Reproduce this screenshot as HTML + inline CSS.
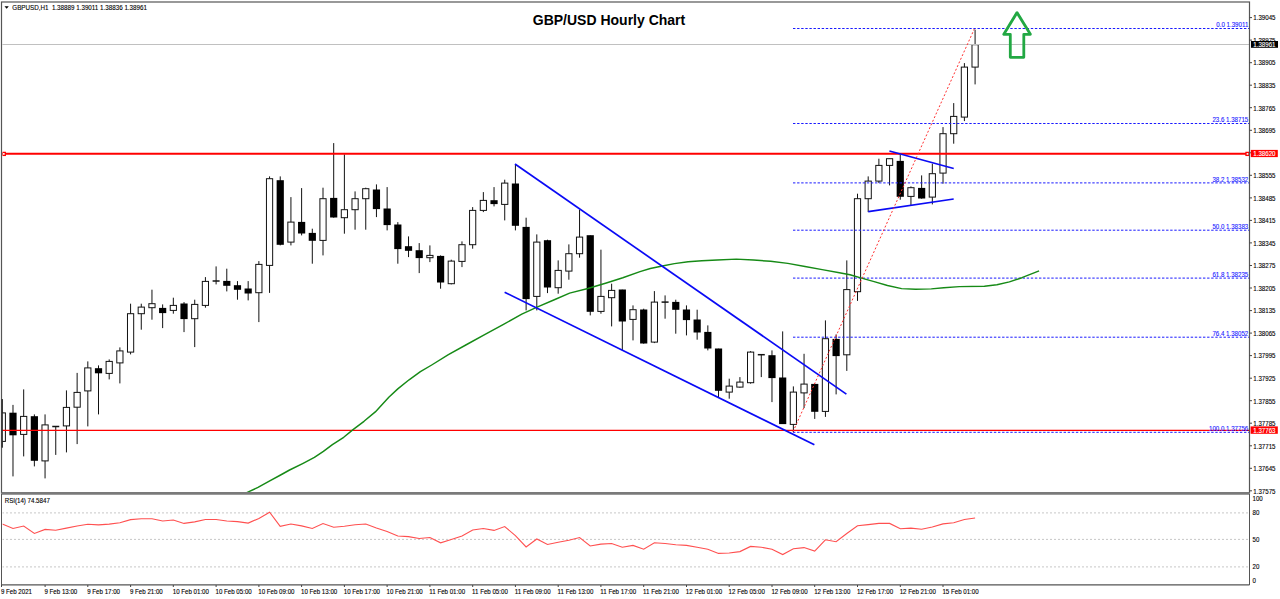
<!DOCTYPE html>
<html><head><meta charset="utf-8"><title>GBP/USD Hourly Chart</title>
<style>html,body{margin:0;padding:0;background:#fff;width:1280px;height:599px;overflow:hidden;font-family:"Liberation Sans",sans-serif}svg{display:block}</style>
</head><body>
<svg width="1280" height="599" viewBox="0 0 1280 599">
<rect x="0" y="0" width="1280" height="599" fill="#fff"/>
<defs><clipPath id="mc"><rect x="2.5" y="2" width="1246.5" height="490"/></clipPath><clipPath id="rc"><rect x="2.5" y="495" width="1246.5" height="89.5"/></clipPath></defs>
<g clip-path="url(#mc)">
<line x1="2.30" y1="399.4" x2="2.30" y2="447.9" stroke="#111" stroke-width="1"/>
<rect x="-0.80" y="412.9" width="6.2" height="28.5" fill="#fff" stroke="#111" stroke-width="1"/>
<line x1="12.99" y1="404.9" x2="12.99" y2="476.4" stroke="#111" stroke-width="1"/>
<rect x="9.39" y="412.7" width="7.2" height="22.6" fill="#000"/>
<line x1="23.68" y1="389.4" x2="23.68" y2="456.4" stroke="#111" stroke-width="1"/>
<rect x="20.58" y="416.4" width="6.2" height="18.0" fill="#fff" stroke="#111" stroke-width="1"/>
<line x1="34.37" y1="414.4" x2="34.37" y2="466.4" stroke="#111" stroke-width="1"/>
<rect x="30.77" y="416.2" width="7.2" height="44.6" fill="#000"/>
<line x1="45.06" y1="414.4" x2="45.06" y2="478.4" stroke="#111" stroke-width="1"/>
<rect x="41.96" y="424.9" width="6.2" height="36.0" fill="#fff" stroke="#111" stroke-width="1"/>
<line x1="55.75" y1="426.4" x2="55.75" y2="454.9" stroke="#111" stroke-width="1"/>
<line x1="52.25" y1="426.4" x2="59.25" y2="426.4" stroke="#111" stroke-width="1.5"/>
<line x1="66.44" y1="390.4" x2="66.44" y2="452.4" stroke="#111" stroke-width="1"/>
<rect x="63.34" y="407.4" width="6.2" height="18.5" fill="#fff" stroke="#111" stroke-width="1"/>
<line x1="77.13" y1="372.9" x2="77.13" y2="444.1" stroke="#111" stroke-width="1"/>
<rect x="74.03" y="392.4" width="6.2" height="14.8" fill="#fff" stroke="#111" stroke-width="1"/>
<line x1="87.82" y1="361.4" x2="87.82" y2="426.4" stroke="#111" stroke-width="1"/>
<rect x="84.72" y="367.9" width="6.2" height="23.0" fill="#fff" stroke="#111" stroke-width="1"/>
<line x1="98.51" y1="365.4" x2="98.51" y2="414.4" stroke="#111" stroke-width="1"/>
<rect x="94.91" y="368.2" width="7.2" height="5.1" fill="#000"/>
<line x1="109.20" y1="359.4" x2="109.20" y2="379.4" stroke="#111" stroke-width="1"/>
<rect x="106.10" y="361.4" width="6.2" height="12.0" fill="#fff" stroke="#111" stroke-width="1"/>
<line x1="119.89" y1="347.4" x2="119.89" y2="383.4" stroke="#111" stroke-width="1"/>
<rect x="116.79" y="350.9" width="6.2" height="12.0" fill="#fff" stroke="#111" stroke-width="1"/>
<line x1="130.58" y1="303.7" x2="130.58" y2="354.4" stroke="#111" stroke-width="1"/>
<rect x="127.48" y="313.7" width="6.2" height="38.4" fill="#fff" stroke="#111" stroke-width="1"/>
<line x1="141.27" y1="303.7" x2="141.27" y2="329.7" stroke="#111" stroke-width="1"/>
<rect x="138.17" y="307.1" width="6.2" height="6.6" fill="#fff" stroke="#111" stroke-width="1"/>
<line x1="151.96" y1="289.7" x2="151.96" y2="319.7" stroke="#111" stroke-width="1"/>
<rect x="148.86" y="303.7" width="6.2" height="4.0" fill="#fff" stroke="#111" stroke-width="1"/>
<line x1="162.65" y1="304.4" x2="162.65" y2="328.1" stroke="#111" stroke-width="1"/>
<rect x="159.05" y="307.9" width="7.2" height="5.2" fill="#000"/>
<line x1="173.34" y1="297.7" x2="173.34" y2="313.7" stroke="#111" stroke-width="1"/>
<rect x="170.24" y="305.4" width="6.2" height="5.0" fill="#fff" stroke="#111" stroke-width="1"/>
<line x1="184.03" y1="302.1" x2="184.03" y2="332.1" stroke="#111" stroke-width="1"/>
<rect x="180.43" y="303.5" width="7.2" height="15.6" fill="#000"/>
<line x1="194.72" y1="299.7" x2="194.72" y2="347.1" stroke="#111" stroke-width="1"/>
<rect x="191.62" y="304.4" width="6.2" height="14.3" fill="#fff" stroke="#111" stroke-width="1"/>
<line x1="205.41" y1="277.1" x2="205.41" y2="307.7" stroke="#111" stroke-width="1"/>
<rect x="202.31" y="281.4" width="6.2" height="24.0" fill="#fff" stroke="#111" stroke-width="1"/>
<line x1="216.10" y1="266.4" x2="216.10" y2="284.4" stroke="#111" stroke-width="1"/>
<line x1="212.60" y1="281.1" x2="219.60" y2="281.1" stroke="#111" stroke-width="1.5"/>
<line x1="226.79" y1="268.7" x2="226.79" y2="291.4" stroke="#111" stroke-width="1"/>
<rect x="223.19" y="280.9" width="7.2" height="4.9" fill="#000"/>
<line x1="237.48" y1="281.1" x2="237.48" y2="299.7" stroke="#111" stroke-width="1"/>
<rect x="233.88" y="285.2" width="7.2" height="4.6" fill="#000"/>
<line x1="248.17" y1="281.1" x2="248.17" y2="300.4" stroke="#111" stroke-width="1"/>
<rect x="244.57" y="288.5" width="7.2" height="5.0" fill="#000"/>
<line x1="258.86" y1="261.1" x2="258.86" y2="322.1" stroke="#111" stroke-width="1"/>
<rect x="255.76" y="264.4" width="6.2" height="28.3" fill="#fff" stroke="#111" stroke-width="1"/>
<line x1="269.55" y1="176.4" x2="269.55" y2="292.9" stroke="#111" stroke-width="1"/>
<rect x="266.45" y="178.7" width="6.2" height="86.7" fill="#fff" stroke="#111" stroke-width="1"/>
<line x1="280.24" y1="176.4" x2="280.24" y2="245.4" stroke="#111" stroke-width="1"/>
<rect x="276.64" y="180.2" width="7.2" height="64.6" fill="#000"/>
<line x1="290.93" y1="197.1" x2="290.93" y2="245.4" stroke="#111" stroke-width="1"/>
<rect x="287.83" y="222.1" width="6.2" height="20.0" fill="#fff" stroke="#111" stroke-width="1"/>
<line x1="301.62" y1="188.1" x2="301.62" y2="235.4" stroke="#111" stroke-width="1"/>
<rect x="298.02" y="221.9" width="7.2" height="11.6" fill="#000"/>
<line x1="312.31" y1="228.7" x2="312.31" y2="263.7" stroke="#111" stroke-width="1"/>
<rect x="308.71" y="232.9" width="7.2" height="7.9" fill="#000"/>
<line x1="323.00" y1="187.7" x2="323.00" y2="255.4" stroke="#111" stroke-width="1"/>
<rect x="319.90" y="198.7" width="6.2" height="41.7" fill="#fff" stroke="#111" stroke-width="1"/>
<line x1="333.69" y1="143.1" x2="333.69" y2="217.7" stroke="#111" stroke-width="1"/>
<rect x="330.09" y="197.9" width="7.2" height="19.6" fill="#000"/>
<line x1="344.38" y1="154.4" x2="344.38" y2="233.7" stroke="#111" stroke-width="1"/>
<rect x="341.28" y="209.7" width="6.2" height="8.0" fill="#fff" stroke="#111" stroke-width="1"/>
<line x1="355.07" y1="191.4" x2="355.07" y2="229.7" stroke="#111" stroke-width="1"/>
<rect x="351.97" y="198.7" width="6.2" height="11.0" fill="#fff" stroke="#111" stroke-width="1"/>
<line x1="365.76" y1="187.7" x2="365.76" y2="229.7" stroke="#111" stroke-width="1"/>
<rect x="362.66" y="188.7" width="6.2" height="10.0" fill="#fff" stroke="#111" stroke-width="1"/>
<line x1="376.45" y1="184.4" x2="376.45" y2="217.1" stroke="#111" stroke-width="1"/>
<rect x="372.85" y="189.5" width="7.2" height="19.6" fill="#000"/>
<line x1="387.14" y1="187.1" x2="387.14" y2="230.4" stroke="#111" stroke-width="1"/>
<rect x="383.54" y="208.5" width="7.2" height="16.6" fill="#000"/>
<line x1="397.83" y1="222.1" x2="397.83" y2="263.7" stroke="#111" stroke-width="1"/>
<rect x="394.23" y="224.5" width="7.2" height="24.6" fill="#000"/>
<line x1="408.52" y1="236.4" x2="408.52" y2="257.1" stroke="#111" stroke-width="1"/>
<rect x="404.92" y="246.2" width="7.2" height="4.6" fill="#000"/>
<line x1="419.21" y1="243.1" x2="419.21" y2="273.1" stroke="#111" stroke-width="1"/>
<rect x="415.61" y="250.2" width="7.2" height="7.9" fill="#000"/>
<line x1="429.90" y1="245.4" x2="429.90" y2="262.1" stroke="#111" stroke-width="1"/>
<rect x="426.80" y="255.4" width="6.2" height="2.3" fill="#fff" stroke="#111" stroke-width="1"/>
<line x1="440.59" y1="255.4" x2="440.59" y2="288.7" stroke="#111" stroke-width="1"/>
<rect x="436.99" y="255.9" width="7.2" height="26.6" fill="#000"/>
<line x1="451.28" y1="259.7" x2="451.28" y2="284.4" stroke="#111" stroke-width="1"/>
<rect x="448.18" y="261.1" width="6.2" height="22.6" fill="#fff" stroke="#111" stroke-width="1"/>
<line x1="461.97" y1="241.4" x2="461.97" y2="267.1" stroke="#111" stroke-width="1"/>
<rect x="458.87" y="244.7" width="6.2" height="16.7" fill="#fff" stroke="#111" stroke-width="1"/>
<line x1="472.66" y1="207.1" x2="472.66" y2="248.7" stroke="#111" stroke-width="1"/>
<rect x="469.56" y="210.4" width="6.2" height="34.3" fill="#fff" stroke="#111" stroke-width="1"/>
<line x1="483.35" y1="192.1" x2="483.35" y2="212.1" stroke="#111" stroke-width="1"/>
<rect x="480.25" y="200.4" width="6.2" height="10.0" fill="#fff" stroke="#111" stroke-width="1"/>
<line x1="494.04" y1="187.1" x2="494.04" y2="206.4" stroke="#111" stroke-width="1"/>
<rect x="490.44" y="200.2" width="7.2" height="3.9" fill="#000"/>
<line x1="504.73" y1="179.7" x2="504.73" y2="220.4" stroke="#111" stroke-width="1"/>
<rect x="501.63" y="183.1" width="6.2" height="21.3" fill="#fff" stroke="#111" stroke-width="1"/>
<line x1="515.42" y1="164.4" x2="515.42" y2="230.4" stroke="#111" stroke-width="1"/>
<rect x="511.82" y="183.5" width="7.2" height="42.3" fill="#000"/>
<line x1="526.11" y1="217.7" x2="526.11" y2="310.4" stroke="#111" stroke-width="1"/>
<rect x="522.51" y="226.9" width="7.2" height="72.2" fill="#000"/>
<line x1="536.80" y1="234.4" x2="536.80" y2="310.4" stroke="#111" stroke-width="1"/>
<rect x="533.70" y="242.1" width="6.2" height="54.3" fill="#fff" stroke="#111" stroke-width="1"/>
<line x1="547.49" y1="239.7" x2="547.49" y2="293.1" stroke="#111" stroke-width="1"/>
<rect x="543.89" y="240.2" width="7.2" height="47.3" fill="#000"/>
<line x1="558.18" y1="260.4" x2="558.18" y2="293.7" stroke="#111" stroke-width="1"/>
<rect x="555.08" y="270.4" width="6.2" height="17.3" fill="#fff" stroke="#111" stroke-width="1"/>
<line x1="568.87" y1="244.4" x2="568.87" y2="279.7" stroke="#111" stroke-width="1"/>
<rect x="565.77" y="253.7" width="6.2" height="17.4" fill="#fff" stroke="#111" stroke-width="1"/>
<line x1="579.56" y1="209.7" x2="579.56" y2="257.7" stroke="#111" stroke-width="1"/>
<rect x="576.46" y="237.1" width="6.2" height="16.6" fill="#fff" stroke="#111" stroke-width="1"/>
<line x1="590.25" y1="235.4" x2="590.25" y2="315.4" stroke="#111" stroke-width="1"/>
<rect x="586.65" y="235.2" width="7.2" height="76.6" fill="#000"/>
<line x1="600.94" y1="249.7" x2="600.94" y2="313.7" stroke="#111" stroke-width="1"/>
<rect x="597.84" y="296.4" width="6.2" height="15.0" fill="#fff" stroke="#111" stroke-width="1"/>
<line x1="611.63" y1="283.7" x2="611.63" y2="326.4" stroke="#111" stroke-width="1"/>
<rect x="608.53" y="290.4" width="6.2" height="7.3" fill="#fff" stroke="#111" stroke-width="1"/>
<line x1="622.32" y1="289.7" x2="622.32" y2="350.4" stroke="#111" stroke-width="1"/>
<rect x="618.72" y="289.5" width="7.2" height="32.0" fill="#000"/>
<line x1="633.01" y1="305.4" x2="633.01" y2="340.4" stroke="#111" stroke-width="1"/>
<rect x="629.91" y="309.7" width="6.2" height="9.7" fill="#fff" stroke="#111" stroke-width="1"/>
<line x1="643.70" y1="308.7" x2="643.70" y2="343.7" stroke="#111" stroke-width="1"/>
<rect x="640.10" y="309.5" width="7.2" height="34.0" fill="#000"/>
<line x1="654.39" y1="291.1" x2="654.39" y2="343.1" stroke="#111" stroke-width="1"/>
<rect x="651.29" y="302.1" width="6.2" height="40.0" fill="#fff" stroke="#111" stroke-width="1"/>
<line x1="665.08" y1="295.4" x2="665.08" y2="318.7" stroke="#111" stroke-width="1"/>
<line x1="661.58" y1="302.1" x2="668.58" y2="302.1" stroke="#111" stroke-width="1.5"/>
<line x1="675.77" y1="299.7" x2="675.77" y2="333.7" stroke="#111" stroke-width="1"/>
<rect x="672.17" y="301.9" width="7.2" height="7.9" fill="#000"/>
<line x1="686.46" y1="305.4" x2="686.46" y2="335.4" stroke="#111" stroke-width="1"/>
<rect x="682.86" y="309.5" width="7.2" height="10.6" fill="#000"/>
<line x1="697.15" y1="309.7" x2="697.15" y2="339.7" stroke="#111" stroke-width="1"/>
<rect x="693.55" y="319.5" width="7.2" height="13.0" fill="#000"/>
<line x1="707.84" y1="325.4" x2="707.84" y2="350.4" stroke="#111" stroke-width="1"/>
<rect x="704.24" y="331.9" width="7.2" height="16.6" fill="#000"/>
<line x1="718.53" y1="348.7" x2="718.53" y2="397.1" stroke="#111" stroke-width="1"/>
<rect x="714.93" y="348.5" width="7.2" height="42.3" fill="#000"/>
<line x1="729.22" y1="378.7" x2="729.22" y2="398.7" stroke="#111" stroke-width="1"/>
<rect x="726.12" y="386.1" width="6.2" height="6.0" fill="#fff" stroke="#111" stroke-width="1"/>
<line x1="739.91" y1="377.1" x2="739.91" y2="387.7" stroke="#111" stroke-width="1"/>
<rect x="736.81" y="382.1" width="6.2" height="5.0" fill="#fff" stroke="#111" stroke-width="1"/>
<line x1="750.60" y1="351.1" x2="750.60" y2="383.7" stroke="#111" stroke-width="1"/>
<rect x="747.50" y="352.1" width="6.2" height="30.6" fill="#fff" stroke="#111" stroke-width="1"/>
<line x1="761.29" y1="354.7" x2="761.29" y2="377.1" stroke="#111" stroke-width="1"/>
<line x1="757.79" y1="354.7" x2="764.79" y2="354.7" stroke="#111" stroke-width="1.5"/>
<line x1="771.98" y1="350.4" x2="771.98" y2="402.1" stroke="#111" stroke-width="1"/>
<rect x="768.38" y="355.2" width="7.2" height="22.9" fill="#000"/>
<line x1="782.67" y1="331.4" x2="782.67" y2="423.7" stroke="#111" stroke-width="1"/>
<rect x="779.07" y="377.5" width="7.2" height="46.6" fill="#000"/>
<line x1="793.36" y1="386.4" x2="793.36" y2="432.1" stroke="#111" stroke-width="1"/>
<rect x="790.26" y="392.1" width="6.2" height="32.3" fill="#fff" stroke="#111" stroke-width="1"/>
<line x1="804.05" y1="353.8" x2="804.05" y2="408.1" stroke="#111" stroke-width="1"/>
<rect x="800.95" y="384.1" width="6.2" height="8.8" fill="#fff" stroke="#111" stroke-width="1"/>
<line x1="814.74" y1="383.7" x2="814.74" y2="418.9" stroke="#111" stroke-width="1"/>
<rect x="811.14" y="383.9" width="7.2" height="27.9" fill="#000"/>
<line x1="825.43" y1="320.4" x2="825.43" y2="416.9" stroke="#111" stroke-width="1"/>
<rect x="822.33" y="338.7" width="6.2" height="72.7" fill="#fff" stroke="#111" stroke-width="1"/>
<line x1="836.12" y1="334.4" x2="836.12" y2="394.4" stroke="#111" stroke-width="1"/>
<rect x="832.52" y="338.9" width="7.2" height="17.2" fill="#000"/>
<line x1="846.81" y1="260.4" x2="846.81" y2="370.9" stroke="#111" stroke-width="1"/>
<rect x="843.71" y="289.6" width="6.2" height="65.2" fill="#fff" stroke="#111" stroke-width="1"/>
<line x1="857.50" y1="193.7" x2="857.50" y2="300.9" stroke="#111" stroke-width="1"/>
<rect x="854.40" y="198.7" width="6.2" height="93.0" fill="#fff" stroke="#111" stroke-width="1"/>
<line x1="868.19" y1="176.4" x2="868.19" y2="212.1" stroke="#111" stroke-width="1"/>
<rect x="865.09" y="181.1" width="6.2" height="17.6" fill="#fff" stroke="#111" stroke-width="1"/>
<line x1="878.88" y1="158.7" x2="878.88" y2="183.1" stroke="#111" stroke-width="1"/>
<rect x="875.78" y="165.4" width="6.2" height="15.7" fill="#fff" stroke="#111" stroke-width="1"/>
<line x1="889.57" y1="158.7" x2="889.57" y2="185.4" stroke="#111" stroke-width="1"/>
<rect x="886.47" y="158.7" width="6.2" height="6.7" fill="#fff" stroke="#111" stroke-width="1"/>
<line x1="900.26" y1="154.4" x2="900.26" y2="199.7" stroke="#111" stroke-width="1"/>
<rect x="896.66" y="160.9" width="7.2" height="35.9" fill="#000"/>
<line x1="910.95" y1="186.4" x2="910.95" y2="205.4" stroke="#111" stroke-width="1"/>
<rect x="907.85" y="187.7" width="6.2" height="8.7" fill="#fff" stroke="#111" stroke-width="1"/>
<line x1="921.64" y1="175.4" x2="921.64" y2="198.7" stroke="#111" stroke-width="1"/>
<rect x="918.04" y="187.9" width="7.2" height="10.6" fill="#000"/>
<line x1="932.33" y1="163.7" x2="932.33" y2="204.4" stroke="#111" stroke-width="1"/>
<rect x="929.23" y="173.7" width="6.2" height="23.4" fill="#fff" stroke="#111" stroke-width="1"/>
<line x1="943.02" y1="127.1" x2="943.02" y2="183.7" stroke="#111" stroke-width="1"/>
<rect x="939.92" y="133.7" width="6.2" height="39.4" fill="#fff" stroke="#111" stroke-width="1"/>
<line x1="953.71" y1="103.1" x2="953.71" y2="143.7" stroke="#111" stroke-width="1"/>
<rect x="950.61" y="116.4" width="6.2" height="17.3" fill="#fff" stroke="#111" stroke-width="1"/>
<line x1="964.40" y1="63.1" x2="964.40" y2="121.1" stroke="#111" stroke-width="1"/>
<rect x="961.30" y="67.1" width="6.2" height="50.0" fill="#fff" stroke="#111" stroke-width="1"/>
<line x1="975.09" y1="29.7" x2="975.09" y2="84.4" stroke="#111" stroke-width="1"/>
<rect x="971.99" y="44.7" width="6.2" height="22.4" fill="#fff" stroke="#111" stroke-width="1"/>
<line x1="793" y1="28.5" x2="1249" y2="28.5" stroke="#1a1aff" stroke-width="1" stroke-dasharray="2.4 1.7"/>
<line x1="793" y1="123.5" x2="1249" y2="123.5" stroke="#1a1aff" stroke-width="1" stroke-dasharray="2.4 1.7"/>
<line x1="793" y1="182.9" x2="1249" y2="182.9" stroke="#1a1aff" stroke-width="1" stroke-dasharray="2.4 1.7"/>
<line x1="793" y1="230.2" x2="1249" y2="230.2" stroke="#1a1aff" stroke-width="1" stroke-dasharray="2.4 1.7"/>
<line x1="793" y1="278.1" x2="1249" y2="278.1" stroke="#1a1aff" stroke-width="1" stroke-dasharray="2.4 1.7"/>
<line x1="793" y1="337.2" x2="1249" y2="337.2" stroke="#1a1aff" stroke-width="1" stroke-dasharray="2.4 1.7"/>
<line x1="793" y1="432.3" x2="1249" y2="432.3" stroke="#1a1aff" stroke-width="1" stroke-dasharray="2.4 1.7"/>
<line x1="2" y1="44.5" x2="1249" y2="44.5" stroke="#c0c0c0" stroke-width="1"/>
<line x1="2" y1="153.8" x2="1249" y2="153.8" stroke="#ff0000" stroke-width="1.9"/>
<line x1="2" y1="430.4" x2="1249" y2="430.4" stroke="#ff0000" stroke-width="1.4"/>
<rect x="1246" y="152.4" width="3" height="3" fill="#fff" stroke="#ff0000" stroke-width="1.3"/>
<rect x="2.3" y="152.4" width="3" height="3" fill="#fff" stroke="#ff0000" stroke-width="1.3"/>
<polyline points="246.8,492.6 258.0,487.4 269.3,481.1 280.6,475.0 289.6,470.0 303.1,463.3 314.4,457.4 323.4,451.3 332.4,444.6 343.7,437.3 352.7,429.9 364.0,421.3 375.3,411.9 388.8,397.2 397.8,388.9 409.1,379.8 420.4,371.7 431.7,365.0 448.4,354.6 466.7,344.5 485.1,334.4 503.5,324.3 521.8,314.2 536.5,307.4 554.9,299.5 569.6,293.1 587.9,288.5 606.3,283.0 622.8,277.8 640.0,271.6 650.3,268.5 662.3,266.0 674.4,263.6 688.1,261.7 701.9,260.8 717.3,260.0 736.3,259.1 753.4,260.0 770.6,261.3 787.8,263.4 805.0,266.5 822.2,269.6 839.4,272.8 850.0,274.8 862.5,278.4 875.0,281.9 887.5,285.5 901.6,288.6 915.6,289.2 931.3,288.9 943.8,287.7 959.4,286.6 984.4,286.3 996.9,284.7 1009.4,281.9 1021.9,277.7 1039.1,270.9" fill="none" stroke="#168a16" stroke-width="1.45" stroke-linejoin="round"/>
<line x1="515" y1="164" x2="846.4" y2="394.1" stroke="#0a0af5" stroke-width="1.7"/>
<line x1="504.6" y1="292.2" x2="814.4" y2="444.8" stroke="#0a0af5" stroke-width="1.7"/>
<line x1="889.4" y1="151" x2="953.7" y2="168.5" stroke="#0a0af5" stroke-width="1.7"/>
<line x1="868.3" y1="211.6" x2="953.7" y2="199" stroke="#0a0af5" stroke-width="1.7"/>
<line x1="793" y1="431.7" x2="974.3" y2="29" stroke="#ff3030" stroke-width="1" stroke-dasharray="2 2"/>
<path d="M1017,12.6 L1003.8,34.3 L1010.3,34.3 L1010.3,57.3 L1023.8,57.3 L1023.8,34.3 L1030.4,34.3 Z" fill="none" stroke="#22a843" stroke-width="2.8" stroke-linejoin="round"/>
<text transform="translate(1248.30,27.40) scale(0.880,1)" text-anchor="end" font-family="Liberation Sans" font-size="7.00" font-weight="normal" fill="#2020ff" stroke="#2020ff" stroke-width="0.12" xml:space="preserve">0.0 1.39011</text>
<text transform="translate(1248.30,122.40) scale(0.880,1)" text-anchor="end" font-family="Liberation Sans" font-size="7.00" font-weight="normal" fill="#2020ff" stroke="#2020ff" stroke-width="0.12" xml:space="preserve">23.6 1.38715</text>
<text transform="translate(1248.30,181.80) scale(0.880,1)" text-anchor="end" font-family="Liberation Sans" font-size="7.00" font-weight="normal" fill="#2020ff" stroke="#2020ff" stroke-width="0.12" xml:space="preserve">38.2 1.38532</text>
<text transform="translate(1248.30,229.10) scale(0.880,1)" text-anchor="end" font-family="Liberation Sans" font-size="7.00" font-weight="normal" fill="#2020ff" stroke="#2020ff" stroke-width="0.12" xml:space="preserve">50.0 1.38383</text>
<text transform="translate(1248.30,277.00) scale(0.880,1)" text-anchor="end" font-family="Liberation Sans" font-size="7.00" font-weight="normal" fill="#2020ff" stroke="#2020ff" stroke-width="0.12" xml:space="preserve">61.8 1.38235</text>
<text transform="translate(1248.30,336.10) scale(0.880,1)" text-anchor="end" font-family="Liberation Sans" font-size="7.00" font-weight="normal" fill="#2020ff" stroke="#2020ff" stroke-width="0.12" xml:space="preserve">76.4 1.38052</text>
<text transform="translate(1248.30,431.20) scale(0.880,1)" text-anchor="end" font-family="Liberation Sans" font-size="7.00" font-weight="normal" fill="#2020ff" stroke="#2020ff" stroke-width="0.12" xml:space="preserve">100.0 1.37756</text>
</g>
<text x="609" y="25" text-anchor="middle" font-family="Liberation Sans" font-weight="bold" font-size="14" fill="#000">GBP/USD Hourly Chart</text>
<path d="M4.5,6.2 L8.8,6.2 L6.65,8.8 Z" fill="#000"/>
<text transform="translate(12.30,9.80) scale(0.895,1)" text-anchor="start" font-family="Liberation Sans" font-size="7.00" font-weight="normal" fill="#000" stroke="#000" stroke-width="0.12" xml:space="preserve">GBPUSD,H1  1.38889 1.39011 1.38836 1.38961</text>
<rect x="1.5" y="2" width="1248" height="491" fill="none" stroke="#555" stroke-width="1.2"/>
<line x1="1.5" y1="493.4" x2="1249.5" y2="493.4" stroke="#7a7a7a" stroke-width="2.6"/>
<line x1="1.5" y1="494" x2="1.5" y2="585" stroke="#555" stroke-width="1"/>
<line x1="1249.5" y1="494" x2="1249.5" y2="585" stroke="#555" stroke-width="1"/>
<line x1="1.5" y1="584.8" x2="1249.5" y2="584.8" stroke="#555" stroke-width="1.2"/>
<line x1="2.2" y1="399" x2="2.2" y2="447.5" stroke="#111" stroke-width="1"/>
<line x1="1249.5" y1="17.6" x2="1252" y2="17.6" stroke="#444" stroke-width="1"/>
<text transform="translate(1253.30,20.40) scale(0.880,1)" text-anchor="start" font-family="Liberation Sans" font-size="7.00" font-weight="normal" fill="#000" stroke="#000" stroke-width="0.12" xml:space="preserve">1.39045</text>
<line x1="1249.5" y1="40.1" x2="1252" y2="40.1" stroke="#444" stroke-width="1"/>
<text transform="translate(1253.30,42.94) scale(0.880,1)" text-anchor="start" font-family="Liberation Sans" font-size="7.00" font-weight="normal" fill="#000" stroke="#000" stroke-width="0.12" xml:space="preserve">1.38975</text>
<line x1="1249.5" y1="62.7" x2="1252" y2="62.7" stroke="#444" stroke-width="1"/>
<text transform="translate(1253.30,65.47) scale(0.880,1)" text-anchor="start" font-family="Liberation Sans" font-size="7.00" font-weight="normal" fill="#000" stroke="#000" stroke-width="0.12" xml:space="preserve">1.38905</text>
<line x1="1249.5" y1="85.2" x2="1252" y2="85.2" stroke="#444" stroke-width="1"/>
<text transform="translate(1253.30,88.01) scale(0.880,1)" text-anchor="start" font-family="Liberation Sans" font-size="7.00" font-weight="normal" fill="#000" stroke="#000" stroke-width="0.12" xml:space="preserve">1.38835</text>
<line x1="1249.5" y1="107.7" x2="1252" y2="107.7" stroke="#444" stroke-width="1"/>
<text transform="translate(1253.30,110.54) scale(0.880,1)" text-anchor="start" font-family="Liberation Sans" font-size="7.00" font-weight="normal" fill="#000" stroke="#000" stroke-width="0.12" xml:space="preserve">1.38765</text>
<line x1="1249.5" y1="130.3" x2="1252" y2="130.3" stroke="#444" stroke-width="1"/>
<text transform="translate(1253.30,133.08) scale(0.880,1)" text-anchor="start" font-family="Liberation Sans" font-size="7.00" font-weight="normal" fill="#000" stroke="#000" stroke-width="0.12" xml:space="preserve">1.38695</text>
<line x1="1249.5" y1="152.8" x2="1252" y2="152.8" stroke="#444" stroke-width="1"/>
<text transform="translate(1253.30,155.61) scale(0.880,1)" text-anchor="start" font-family="Liberation Sans" font-size="7.00" font-weight="normal" fill="#000" stroke="#000" stroke-width="0.12" xml:space="preserve">1.38625</text>
<line x1="1249.5" y1="175.3" x2="1252" y2="175.3" stroke="#444" stroke-width="1"/>
<text transform="translate(1253.30,178.15) scale(0.880,1)" text-anchor="start" font-family="Liberation Sans" font-size="7.00" font-weight="normal" fill="#000" stroke="#000" stroke-width="0.12" xml:space="preserve">1.38555</text>
<line x1="1249.5" y1="197.9" x2="1252" y2="197.9" stroke="#444" stroke-width="1"/>
<text transform="translate(1253.30,200.68) scale(0.880,1)" text-anchor="start" font-family="Liberation Sans" font-size="7.00" font-weight="normal" fill="#000" stroke="#000" stroke-width="0.12" xml:space="preserve">1.38485</text>
<line x1="1249.5" y1="220.4" x2="1252" y2="220.4" stroke="#444" stroke-width="1"/>
<text transform="translate(1253.30,223.22) scale(0.880,1)" text-anchor="start" font-family="Liberation Sans" font-size="7.00" font-weight="normal" fill="#000" stroke="#000" stroke-width="0.12" xml:space="preserve">1.38415</text>
<line x1="1249.5" y1="242.9" x2="1252" y2="242.9" stroke="#444" stroke-width="1"/>
<text transform="translate(1253.30,245.75) scale(0.880,1)" text-anchor="start" font-family="Liberation Sans" font-size="7.00" font-weight="normal" fill="#000" stroke="#000" stroke-width="0.12" xml:space="preserve">1.38345</text>
<line x1="1249.5" y1="265.5" x2="1252" y2="265.5" stroke="#444" stroke-width="1"/>
<text transform="translate(1253.30,268.29) scale(0.880,1)" text-anchor="start" font-family="Liberation Sans" font-size="7.00" font-weight="normal" fill="#000" stroke="#000" stroke-width="0.12" xml:space="preserve">1.38275</text>
<line x1="1249.5" y1="288.0" x2="1252" y2="288.0" stroke="#444" stroke-width="1"/>
<text transform="translate(1253.30,290.82) scale(0.880,1)" text-anchor="start" font-family="Liberation Sans" font-size="7.00" font-weight="normal" fill="#000" stroke="#000" stroke-width="0.12" xml:space="preserve">1.38205</text>
<line x1="1249.5" y1="310.6" x2="1252" y2="310.6" stroke="#444" stroke-width="1"/>
<text transform="translate(1253.30,313.36) scale(0.880,1)" text-anchor="start" font-family="Liberation Sans" font-size="7.00" font-weight="normal" fill="#000" stroke="#000" stroke-width="0.12" xml:space="preserve">1.38135</text>
<line x1="1249.5" y1="333.1" x2="1252" y2="333.1" stroke="#444" stroke-width="1"/>
<text transform="translate(1253.30,335.89) scale(0.880,1)" text-anchor="start" font-family="Liberation Sans" font-size="7.00" font-weight="normal" fill="#000" stroke="#000" stroke-width="0.12" xml:space="preserve">1.38065</text>
<line x1="1249.5" y1="355.6" x2="1252" y2="355.6" stroke="#444" stroke-width="1"/>
<text transform="translate(1253.30,358.43) scale(0.880,1)" text-anchor="start" font-family="Liberation Sans" font-size="7.00" font-weight="normal" fill="#000" stroke="#000" stroke-width="0.12" xml:space="preserve">1.37995</text>
<line x1="1249.5" y1="378.2" x2="1252" y2="378.2" stroke="#444" stroke-width="1"/>
<text transform="translate(1253.30,380.96) scale(0.880,1)" text-anchor="start" font-family="Liberation Sans" font-size="7.00" font-weight="normal" fill="#000" stroke="#000" stroke-width="0.12" xml:space="preserve">1.37925</text>
<line x1="1249.5" y1="400.7" x2="1252" y2="400.7" stroke="#444" stroke-width="1"/>
<text transform="translate(1253.30,403.50) scale(0.880,1)" text-anchor="start" font-family="Liberation Sans" font-size="7.00" font-weight="normal" fill="#000" stroke="#000" stroke-width="0.12" xml:space="preserve">1.37855</text>
<line x1="1249.5" y1="423.2" x2="1252" y2="423.2" stroke="#444" stroke-width="1"/>
<text transform="translate(1253.30,426.03) scale(0.880,1)" text-anchor="start" font-family="Liberation Sans" font-size="7.00" font-weight="normal" fill="#000" stroke="#000" stroke-width="0.12" xml:space="preserve">1.37785</text>
<line x1="1249.5" y1="445.8" x2="1252" y2="445.8" stroke="#444" stroke-width="1"/>
<text transform="translate(1253.30,448.57) scale(0.880,1)" text-anchor="start" font-family="Liberation Sans" font-size="7.00" font-weight="normal" fill="#000" stroke="#000" stroke-width="0.12" xml:space="preserve">1.37715</text>
<line x1="1249.5" y1="468.3" x2="1252" y2="468.3" stroke="#444" stroke-width="1"/>
<text transform="translate(1253.30,471.10) scale(0.880,1)" text-anchor="start" font-family="Liberation Sans" font-size="7.00" font-weight="normal" fill="#000" stroke="#000" stroke-width="0.12" xml:space="preserve">1.37645</text>
<line x1="1249.5" y1="490.8" x2="1252" y2="490.8" stroke="#444" stroke-width="1"/>
<text transform="translate(1253.30,493.64) scale(0.880,1)" text-anchor="start" font-family="Liberation Sans" font-size="7.00" font-weight="normal" fill="#000" stroke="#000" stroke-width="0.12" xml:space="preserve">1.37575</text>
<rect x="1251" y="41" width="27" height="6.8" fill="#000"/>
<text transform="translate(1253.30,47.00) scale(0.880,1)" text-anchor="start" font-family="Liberation Sans" font-size="7.00" font-weight="normal" fill="#fff" stroke="#fff" stroke-width="0.12" xml:space="preserve">1.38961</text>
<rect x="1250.8" y="149.9" width="27" height="7.2" fill="#ff0000"/>
<text transform="translate(1253.30,156.30) scale(0.880,1)" text-anchor="start" font-family="Liberation Sans" font-size="7.00" font-weight="normal" fill="#fff" stroke="#fff" stroke-width="0.12" xml:space="preserve">1.38620</text>
<rect x="1250.6" y="426.4" width="27.2" height="7.4" fill="#ff0000"/>
<text transform="translate(1253.30,433.00) scale(0.880,1)" text-anchor="start" font-family="Liberation Sans" font-size="7.00" font-weight="normal" fill="#fff" stroke="#fff" stroke-width="0.12" xml:space="preserve">1.37763</text>
<g clip-path="url(#rc)">
<line x1="2" y1="512.9" x2="1249" y2="512.9" stroke="#c8c8c8" stroke-width="1" stroke-dasharray="2 2"/>
<line x1="2" y1="539.4" x2="1249" y2="539.4" stroke="#c8c8c8" stroke-width="1" stroke-dasharray="2 2"/>
<line x1="2" y1="566.9" x2="1249" y2="566.9" stroke="#c8c8c8" stroke-width="1" stroke-dasharray="2 2"/>
<polyline points="2.3,524.1 13.0,528.5 23.7,526.0 34.4,533.5 45.1,529.4 55.7,530.3 66.4,528.1 77.1,526.0 87.8,524.3 98.5,524.9 109.2,524.1 119.9,522.8 130.6,519.6 141.3,518.7 152.0,518.7 162.7,521.0 173.3,520.0 184.0,523.4 194.7,521.9 205.4,519.5 216.1,519.5 226.8,521.0 237.5,521.6 248.2,523.1 258.9,518.4 269.6,512.2 280.2,526.3 290.9,524.0 301.6,525.9 312.3,528.5 323.0,523.5 333.7,527.2 344.4,526.3 355.1,524.8 365.8,524.0 376.4,528.1 387.1,531.5 397.8,536.0 408.5,536.6 419.2,538.5 429.9,537.5 440.6,542.8 451.3,539.4 462.0,536.0 472.7,530.0 483.3,528.5 494.0,530.4 504.7,526.6 515.4,535.6 526.1,546.9 536.8,539.0 547.5,544.5 558.2,542.2 568.9,540.3 579.6,537.5 590.2,546.0 600.9,544.1 611.6,543.5 622.3,547.3 633.0,545.4 643.7,549.2 654.4,542.8 665.1,543.5 675.8,544.7 686.5,545.4 697.1,547.3 707.8,549.2 718.5,553.4 729.2,553.0 739.9,551.6 750.6,546.4 761.3,547.3 772.0,549.2 782.7,554.6 793.4,548.7 804.0,547.6 814.7,551.1 825.4,539.8 836.1,541.7 846.8,533.5 857.5,525.8 868.2,524.6 878.9,523.4 889.6,523.4 900.3,528.8 910.9,528.1 921.6,529.3 932.3,527.0 943.0,523.9 953.7,522.7 964.4,519.5 975.1,518.0" fill="none" stroke="#ff5050" stroke-width="1.1"/>
</g>
<text transform="translate(4.70,502.80) scale(0.880,1)" text-anchor="start" font-family="Liberation Sans" font-size="7.00" font-weight="normal" fill="#000" stroke="#000" stroke-width="0.12" xml:space="preserve">RSI(14) 74.5847</text>
<text transform="translate(1252.50,501.40) scale(0.880,1)" text-anchor="start" font-family="Liberation Sans" font-size="7.00" font-weight="normal" fill="#000" stroke="#000" stroke-width="0.12" xml:space="preserve">100</text>
<text transform="translate(1252.50,515.30) scale(0.880,1)" text-anchor="start" font-family="Liberation Sans" font-size="7.00" font-weight="normal" fill="#000" stroke="#000" stroke-width="0.12" xml:space="preserve">80</text>
<text transform="translate(1252.50,542.10) scale(0.880,1)" text-anchor="start" font-family="Liberation Sans" font-size="7.00" font-weight="normal" fill="#000" stroke="#000" stroke-width="0.12" xml:space="preserve">50</text>
<text transform="translate(1252.50,569.40) scale(0.880,1)" text-anchor="start" font-family="Liberation Sans" font-size="7.00" font-weight="normal" fill="#000" stroke="#000" stroke-width="0.12" xml:space="preserve">20</text>
<text transform="translate(1252.50,582.90) scale(0.880,1)" text-anchor="start" font-family="Liberation Sans" font-size="7.00" font-weight="normal" fill="#000" stroke="#000" stroke-width="0.12" xml:space="preserve">0</text>
<line x1="1.5" y1="585" x2="1.5" y2="587" stroke="#444" stroke-width="1"/>
<text transform="translate(0.90,593.50) scale(0.880,1)" text-anchor="start" font-family="Liberation Sans" font-size="7.00" font-weight="normal" fill="#000" stroke="#000" stroke-width="0.12" xml:space="preserve">9 Feb 2021</text>
<line x1="45.1" y1="585" x2="45.1" y2="587" stroke="#444" stroke-width="1"/>
<text transform="translate(44.46,593.50) scale(0.880,1)" text-anchor="start" font-family="Liberation Sans" font-size="7.00" font-weight="normal" fill="#000" stroke="#000" stroke-width="0.12" xml:space="preserve">9 Feb 13:00</text>
<line x1="87.8" y1="585" x2="87.8" y2="587" stroke="#444" stroke-width="1"/>
<text transform="translate(87.22,593.50) scale(0.880,1)" text-anchor="start" font-family="Liberation Sans" font-size="7.00" font-weight="normal" fill="#000" stroke="#000" stroke-width="0.12" xml:space="preserve">9 Feb 17:00</text>
<line x1="130.6" y1="585" x2="130.6" y2="587" stroke="#444" stroke-width="1"/>
<text transform="translate(129.98,593.50) scale(0.880,1)" text-anchor="start" font-family="Liberation Sans" font-size="7.00" font-weight="normal" fill="#000" stroke="#000" stroke-width="0.12" xml:space="preserve">9 Feb 21:00</text>
<line x1="173.3" y1="585" x2="173.3" y2="587" stroke="#444" stroke-width="1"/>
<text transform="translate(172.74,593.50) scale(0.880,1)" text-anchor="start" font-family="Liberation Sans" font-size="7.00" font-weight="normal" fill="#000" stroke="#000" stroke-width="0.12" xml:space="preserve">10 Feb 01:00</text>
<line x1="216.1" y1="585" x2="216.1" y2="587" stroke="#444" stroke-width="1"/>
<text transform="translate(215.50,593.50) scale(0.880,1)" text-anchor="start" font-family="Liberation Sans" font-size="7.00" font-weight="normal" fill="#000" stroke="#000" stroke-width="0.12" xml:space="preserve">10 Feb 05:00</text>
<line x1="258.9" y1="585" x2="258.9" y2="587" stroke="#444" stroke-width="1"/>
<text transform="translate(258.26,593.50) scale(0.880,1)" text-anchor="start" font-family="Liberation Sans" font-size="7.00" font-weight="normal" fill="#000" stroke="#000" stroke-width="0.12" xml:space="preserve">10 Feb 09:00</text>
<line x1="301.6" y1="585" x2="301.6" y2="587" stroke="#444" stroke-width="1"/>
<text transform="translate(301.02,593.50) scale(0.880,1)" text-anchor="start" font-family="Liberation Sans" font-size="7.00" font-weight="normal" fill="#000" stroke="#000" stroke-width="0.12" xml:space="preserve">10 Feb 13:00</text>
<line x1="344.4" y1="585" x2="344.4" y2="587" stroke="#444" stroke-width="1"/>
<text transform="translate(343.78,593.50) scale(0.880,1)" text-anchor="start" font-family="Liberation Sans" font-size="7.00" font-weight="normal" fill="#000" stroke="#000" stroke-width="0.12" xml:space="preserve">10 Feb 17:00</text>
<line x1="387.1" y1="585" x2="387.1" y2="587" stroke="#444" stroke-width="1"/>
<text transform="translate(386.54,593.50) scale(0.880,1)" text-anchor="start" font-family="Liberation Sans" font-size="7.00" font-weight="normal" fill="#000" stroke="#000" stroke-width="0.12" xml:space="preserve">10 Feb 21:00</text>
<line x1="429.9" y1="585" x2="429.9" y2="587" stroke="#444" stroke-width="1"/>
<text transform="translate(429.30,593.50) scale(0.880,1)" text-anchor="start" font-family="Liberation Sans" font-size="7.00" font-weight="normal" fill="#000" stroke="#000" stroke-width="0.12" xml:space="preserve">11 Feb 01:00</text>
<line x1="472.7" y1="585" x2="472.7" y2="587" stroke="#444" stroke-width="1"/>
<text transform="translate(472.06,593.50) scale(0.880,1)" text-anchor="start" font-family="Liberation Sans" font-size="7.00" font-weight="normal" fill="#000" stroke="#000" stroke-width="0.12" xml:space="preserve">11 Feb 05:00</text>
<line x1="515.4" y1="585" x2="515.4" y2="587" stroke="#444" stroke-width="1"/>
<text transform="translate(514.82,593.50) scale(0.880,1)" text-anchor="start" font-family="Liberation Sans" font-size="7.00" font-weight="normal" fill="#000" stroke="#000" stroke-width="0.12" xml:space="preserve">11 Feb 09:00</text>
<line x1="558.2" y1="585" x2="558.2" y2="587" stroke="#444" stroke-width="1"/>
<text transform="translate(557.58,593.50) scale(0.880,1)" text-anchor="start" font-family="Liberation Sans" font-size="7.00" font-weight="normal" fill="#000" stroke="#000" stroke-width="0.12" xml:space="preserve">11 Feb 13:00</text>
<line x1="600.9" y1="585" x2="600.9" y2="587" stroke="#444" stroke-width="1"/>
<text transform="translate(600.34,593.50) scale(0.880,1)" text-anchor="start" font-family="Liberation Sans" font-size="7.00" font-weight="normal" fill="#000" stroke="#000" stroke-width="0.12" xml:space="preserve">11 Feb 17:00</text>
<line x1="643.7" y1="585" x2="643.7" y2="587" stroke="#444" stroke-width="1"/>
<text transform="translate(643.10,593.50) scale(0.880,1)" text-anchor="start" font-family="Liberation Sans" font-size="7.00" font-weight="normal" fill="#000" stroke="#000" stroke-width="0.12" xml:space="preserve">11 Feb 21:00</text>
<line x1="686.5" y1="585" x2="686.5" y2="587" stroke="#444" stroke-width="1"/>
<text transform="translate(685.86,593.50) scale(0.880,1)" text-anchor="start" font-family="Liberation Sans" font-size="7.00" font-weight="normal" fill="#000" stroke="#000" stroke-width="0.12" xml:space="preserve">12 Feb 01:00</text>
<line x1="729.2" y1="585" x2="729.2" y2="587" stroke="#444" stroke-width="1"/>
<text transform="translate(728.62,593.50) scale(0.880,1)" text-anchor="start" font-family="Liberation Sans" font-size="7.00" font-weight="normal" fill="#000" stroke="#000" stroke-width="0.12" xml:space="preserve">12 Feb 05:00</text>
<line x1="772.0" y1="585" x2="772.0" y2="587" stroke="#444" stroke-width="1"/>
<text transform="translate(771.38,593.50) scale(0.880,1)" text-anchor="start" font-family="Liberation Sans" font-size="7.00" font-weight="normal" fill="#000" stroke="#000" stroke-width="0.12" xml:space="preserve">12 Feb 09:00</text>
<line x1="814.7" y1="585" x2="814.7" y2="587" stroke="#444" stroke-width="1"/>
<text transform="translate(814.14,593.50) scale(0.880,1)" text-anchor="start" font-family="Liberation Sans" font-size="7.00" font-weight="normal" fill="#000" stroke="#000" stroke-width="0.12" xml:space="preserve">12 Feb 13:00</text>
<line x1="857.5" y1="585" x2="857.5" y2="587" stroke="#444" stroke-width="1"/>
<text transform="translate(856.90,593.50) scale(0.880,1)" text-anchor="start" font-family="Liberation Sans" font-size="7.00" font-weight="normal" fill="#000" stroke="#000" stroke-width="0.12" xml:space="preserve">12 Feb 17:00</text>
<line x1="900.3" y1="585" x2="900.3" y2="587" stroke="#444" stroke-width="1"/>
<text transform="translate(899.66,593.50) scale(0.880,1)" text-anchor="start" font-family="Liberation Sans" font-size="7.00" font-weight="normal" fill="#000" stroke="#000" stroke-width="0.12" xml:space="preserve">12 Feb 21:00</text>
<line x1="943.0" y1="585" x2="943.0" y2="587" stroke="#444" stroke-width="1"/>
<text transform="translate(942.42,593.50) scale(0.880,1)" text-anchor="start" font-family="Liberation Sans" font-size="7.00" font-weight="normal" fill="#000" stroke="#000" stroke-width="0.12" xml:space="preserve">15 Feb 01:00</text>
</svg>
</body></html>
